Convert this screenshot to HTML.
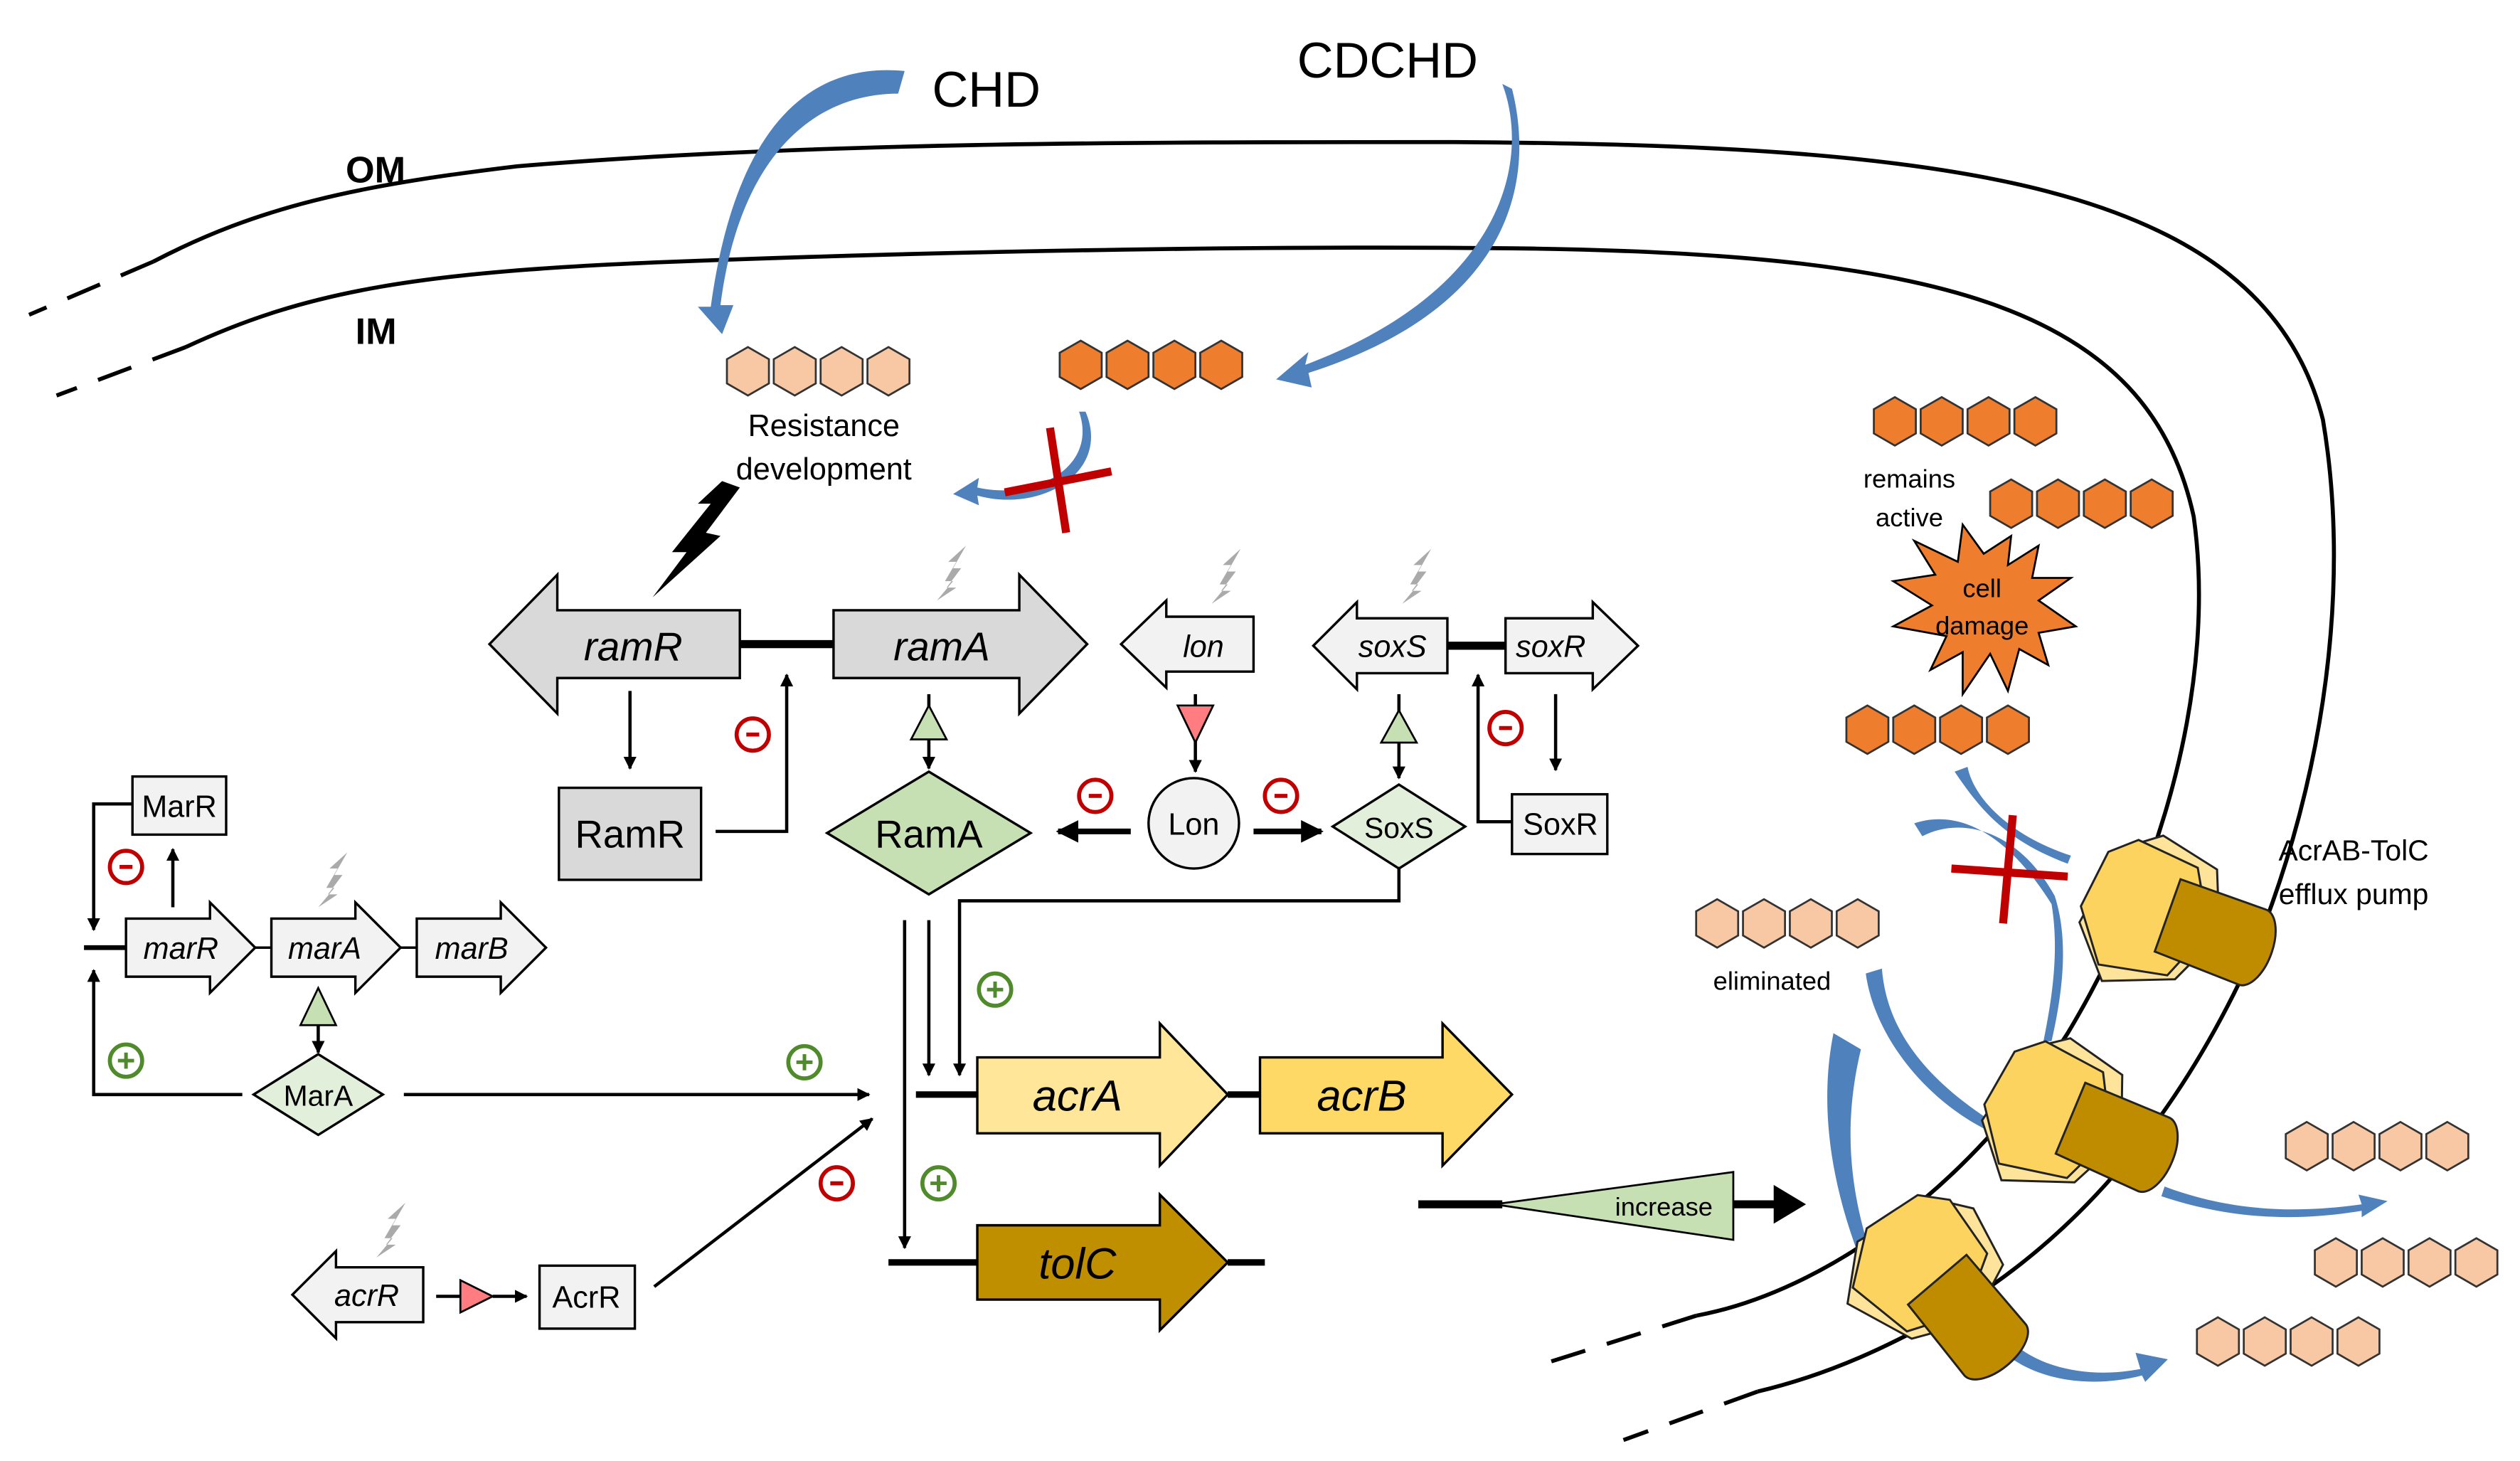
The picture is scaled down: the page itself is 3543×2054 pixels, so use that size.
<!DOCTYPE html>
<html><head><meta charset="utf-8"><style>html,body{margin:0;padding:0;background:#fff}svg{display:block}</style></head>
<body>
<svg width="3543" height="2054" viewBox="0 0 1560 905" preserveAspectRatio="none" xmlns="http://www.w3.org/2000/svg" font-family="Liberation Sans, sans-serif">
<defs>
<marker id="ah" viewBox="0 0 10 10" refX="9" refY="5" markerWidth="4" markerHeight="4" orient="auto"><path d="M0,0L10,5L0,10z" fill="#000"/></marker>
<polygon id="hx" points="0,-15 13,-7.5 13,7.5 0,15 -13,7.5 -13,-7.5"/>
<g id="chainL" fill="#f8c8a4" stroke="#333" stroke-width="1.2"><use href="#hx" x="13"/><use href="#hx" x="42"/><use href="#hx" x="71"/><use href="#hx" x="100"/></g>
<g id="chainO" fill="#ee7d2e" stroke="#333" stroke-width="1.2"><use href="#hx" x="13"/><use href="#hx" x="42"/><use href="#hx" x="71"/><use href="#hx" x="100"/></g>
<g id="bolt"><polygon points="18,0 10,14 15,14 6,26 12,26 0,34 10,22 5,22 12,10 7,10" fill="#aaa"/></g>
<g id="pump" stroke="#222" stroke-width="1.3">
 <polygon points="5,-48 40,-30 45,10 20,40 -25,45 -42,10 -20,-38" fill="#fde49a"/>
 <polygon points="-10,-44 28,-30 38,8 15,38 -28,35 -42,0 -28,-35" fill="#fcd35f"/>
 <path d="M18,-22 L72,-8 A12,24 15 0 1 60,40 L6,24 Z" fill="#bf8c00"/>
</g>
<g id="minus"><circle r="10" fill="#fff" stroke="#c00000" stroke-width="2.5"/><line x1="-4" x2="4" stroke="#c00000" stroke-width="2.5"/></g>
<g id="plus"><circle r="10" fill="#fff" stroke="#4f8a2b" stroke-width="2.5"/><line x1="-5" x2="5" stroke="#4f8a2b" stroke-width="2.2"/><line y1="-5" y2="5" stroke="#4f8a2b" stroke-width="2.2"/></g>
</defs>

<!-- membranes -->
<g fill="none" stroke="#000" stroke-width="2.5">
<path d="M95,162 C160,128 220,115 320,103 C500,88 700,88 900,88 C1200,90 1400,110 1438,260 C1455,360 1440,480 1395,590 C1350,690 1290,760 1220,805 C1170,835 1130,852 1088,862"/>
<path d="M95,162 L18,195" stroke-dasharray="22,14"/>
<path d="M1088,862 L1005,892" stroke-dasharray="22,14"/>
<path d="M115,215 C190,180 260,168 420,162 C600,155 800,152 950,154 C1200,158 1330,190 1358,320 C1372,420 1340,540 1280,640 C1220,735 1130,800 1050,815"/>
<path d="M115,215 L35,245" stroke-dasharray="22,14"/>
<path d="M1050,815 L955,845" stroke-dasharray="22,14"/>
</g>
<text x="214" y="113" font-size="23" font-weight="bold">OM</text>
<text x="220" y="213" font-size="23" font-weight="bold">IM</text>
<text x="577" y="66" font-size="31">CHD</text>
<text x="803" y="48" font-size="31">CDCHD</text>

<!-- blue arrows top -->
<g fill="#4f81bd">
<path d="M560,44 C500,38 455,80 440,190 L432,190 L447,207 L454,189 L446,189 C458,95 505,58 556,58 Z"/>
<path d="M930,52 C948,100 930,180 808,226 L810,218 L790,235 L812,240 L810,231 C938,190 950,110 936,55 Z"/>
<path d="M668,255 C680,290 640,310 605,302 L606,296 L590,306 L606,313 L605,307 C645,318 688,292 672,255 Z"/>
</g>
<use href="#chainL" x="450" y="230"/>
<use href="#chainO" x="656" y="226"/>
<text x="510" y="270" font-size="19" text-anchor="middle">Resistance</text>
<text x="510" y="297" font-size="19" text-anchor="middle">development</text>
<g stroke="#c00000" stroke-width="5"><line x1="622" y1="305" x2="688" y2="292"/><line x1="650" y1="265" x2="660" y2="330"/></g>
<polygon points="458,302 437,330 446,332 404,370 425,342 416,342 440,312 432,312 447,298" fill="#000"/>

<!-- gray bolts -->
<use href="#bolt" x="580" y="338"/>
<use href="#bolt" x="750" y="340"/>
<use href="#bolt" x="868" y="340"/>
<use href="#bolt" x="197" y="528"/>
<use href="#bolt" x="233" y="745"/>

<!-- gene arrows top -->
<g stroke="#000" stroke-width="1.5">
<line x1="458" y1="399" x2="516" y2="399" stroke-width="5"/>
<polygon points="303,399 345,356 345,378 458,378 458,420 345,420 345,442" fill="#d9d9d9"/>
<polygon points="673,399 631,356 631,378 516,378 516,420 631,420 631,442" fill="#d9d9d9"/>
<polygon points="694,399 722,372 722,382 776,382 776,416 722,416 722,426" fill="#f2f2f2"/>
<line x1="896" y1="400" x2="932" y2="400" stroke-width="5"/>
<polygon points="813,400 840,373 840,383 896,383 896,417 840,417 840,427" fill="#f2f2f2"/>
<polygon points="1014,400 986,373 986,383 932,383 932,417 986,417 986,427" fill="#f2f2f2"/>
</g>
<g font-style="italic" text-anchor="middle">
<text x="392" y="409" font-size="25">ramR</text>
<text x="583" y="409" font-size="25">ramA</text>
<text x="745" y="407" font-size="19">lon</text>
<text x="862" y="407" font-size="19">soxS</text>
<text x="960" y="407" font-size="19">soxR</text>
</g>

<!-- proteins -->
<g stroke="#000" stroke-width="1.5">
<rect x="346" y="488" width="88" height="57" fill="#d9d9d9"/>
<polygon points="575,478 638,516 575,554 512,516" fill="#c6e0b4"/>
<circle cx="739" cy="510" r="28" fill="#f2f2f2"/>
<polygon points="866,486 907,512 866,538 825,512" fill="#e2efda"/>
<rect x="936" y="492" width="59" height="37" fill="#f2f2f2"/>
<rect x="82" y="481" width="58" height="36" fill="#f2f2f2"/>
<polygon points="197,653 237,678 197,703 157,678" fill="#e2efda"/>
<rect x="334" y="784" width="59" height="39" fill="#f2f2f2"/>
</g>
<g text-anchor="middle">
<text x="390" y="525" font-size="24">RamR</text>
<text x="575" y="525" font-size="24">RamA</text>
<text x="739" y="517" font-size="19">Lon</text>
<text x="866" y="519" font-size="18">SoxS</text>
<text x="966" y="517" font-size="19">SoxR</text>
<text x="111" y="506" font-size="19">MarR</text>
<text x="197" y="685" font-size="18">MarA</text>
<text x="363" y="810" font-size="19">AcrR</text>
</g>

<!-- connectors -->
<g stroke="#000" stroke-width="2" fill="none" marker-end="url(#ah)">
<line x1="390" y1="428" x2="390" y2="476"/>
<polyline points="443,515 487,515 487,418"/>
<line x1="575" y1="458" x2="575" y2="476"/>
<line x1="740" y1="458" x2="740" y2="478"/>
<line x1="866" y1="460" x2="866" y2="482"/>
<polyline points="936,509 915,509 915,418"/>
<line x1="963" y1="430" x2="963" y2="477"/>
<line x1="700" y1="515" x2="655" y2="515" stroke-width="3.5"/>
<line x1="776" y1="515" x2="818" y2="515" stroke-width="3.5"/>
<line x1="197" y1="635" x2="197" y2="652"/>
<line x1="107" y1="562" x2="107" y2="526"/>
<polyline points="82,498 58,498 58,576"/>
<polyline points="150,678 58,678 58,601"/>
<line x1="250" y1="678" x2="538" y2="678"/>
<line x1="405" y1="797" x2="540" y2="693"/>
<line x1="305" y1="803" x2="326" y2="803"/>
<line x1="560" y1="570" x2="560" y2="773"/>
<line x1="575" y1="570" x2="575" y2="666"/>
<polyline points="866,537 866,558 594,558 594,666"/>
</g>
<g stroke="#000" stroke-width="2">
<line x1="575" y1="430" x2="575" y2="440"/>
<line x1="740" y1="430" x2="740" y2="440"/>
<line x1="866" y1="430" x2="866" y2="442"/>
<line x1="197" y1="615" x2="197" y2="620"/>
<line x1="270" y1="803" x2="285" y2="803"/>
<line x1="52" y1="587" x2="78" y2="587" stroke-width="3"/>
</g>
<g stroke="#000" stroke-width="1.2">
<polygon points="575,437 586,458 564,458" fill="#c6e0b4"/>
<polygon points="729,437 751,437 740,460" fill="#ff7c80"/>
<polygon points="866,440 877,460 855,460" fill="#c6e0b4"/>
<polygon points="197,612 208,635 186,635" fill="#c6e0b4"/>
<polygon points="285,793 305,803 285,813" fill="#ff7c80"/>
</g>

<!-- mar operon -->
<g stroke="#000" stroke-width="1.5" fill="#f2f2f2">
<polygon points="78,569 130,569 130,559 158,587 130,615 130,605 78,605"/>
<polygon points="168,569 220,569 220,559 248,587 220,615 220,605 168,605"/>
<polygon points="258,569 310,569 310,559 338,587 310,615 310,605 258,605"/>
<line x1="158" y1="587" x2="168" y2="587"/><line x1="248" y1="587" x2="258" y2="587"/>
<polygon points="181,802 208,775 208,785 262,785 262,819 208,819 208,829"/>
</g>
<g font-style="italic" text-anchor="middle" font-size="19">
<text x="112" y="594">marR</text><text x="201" y="594">marA</text><text x="292" y="594">marB</text>
<text x="227" y="809">acrR</text>
</g>

<!-- acr operon -->
<g stroke="#000">
<line x1="567" y1="678" x2="605" y2="678" stroke-width="4"/>
<line x1="760" y1="678" x2="780" y2="678" stroke-width="4"/>
<line x1="550" y1="782" x2="605" y2="782" stroke-width="4"/>
<line x1="760" y1="782" x2="783" y2="782" stroke-width="4"/>
<polygon points="605,655 718,655 718,634 760,678 718,722 718,702 605,702" fill="#ffe699" stroke-width="1.5"/>
<polygon points="780,655 893,655 893,634 936,678 893,722 893,702 780,702" fill="#ffd966" stroke-width="1.5"/>
<polygon points="605,759 718,759 718,740 760,782 718,824 718,805 605,805" fill="#bf8f00" stroke-width="1.5"/>
</g>
<g font-style="italic" text-anchor="middle" font-size="27">
<text x="667" y="688">acrA</text><text x="843" y="688">acrB</text><text x="667" y="792">tolC</text>
</g>

<!-- signs -->
<use href="#minus" x="78" y="537"/><use href="#minus" x="466" y="455"/><use href="#minus" x="678" y="493"/>
<use href="#minus" x="793" y="493"/><use href="#minus" x="932" y="451"/><use href="#minus" x="518" y="733"/>
<use href="#plus" x="78" y="657"/><use href="#plus" x="498" y="658"/><use href="#plus" x="616" y="613"/><use href="#plus" x="581" y="733"/>

<!-- increase -->
<line x1="878" y1="746" x2="930" y2="746" stroke="#000" stroke-width="5"/>
<polygon points="925,746 1073,726 1073,768" fill="#c6e0b4" stroke="#000" stroke-width="1.2"/>
<text x="1030" y="753" font-size="16" text-anchor="middle">increase</text>
<line x1="1073" y1="746" x2="1100" y2="746" stroke="#000" stroke-width="5"/>
<polygon points="1098,734 1118,746 1098,758" fill="#000"/>

<!-- right side -->
<use href="#chainO" x="1160" y="261"/>
<use href="#chainO" x="1232" y="312"/>
<use href="#chainO" x="1143" y="452"/>
<use href="#chainL" x="1050" y="572"/>
<use href="#chainL" x="1415" y="710"/>
<use href="#chainL" x="1433" y="782"/>
<use href="#chainL" x="1360" y="831"/>
<text x="1182" y="302" font-size="16" text-anchor="middle">remains</text>
<text x="1182" y="326" font-size="16" text-anchor="middle">active</text>
<polygon points="1245,332 1243,350 1262,338 1258,358 1282,358 1262,372 1285,388 1262,392 1268,412 1250,402 1243,428 1232,405 1215,430 1215,404 1195,415 1205,394 1172,388 1196,375 1172,360 1198,356 1185,335 1212,348 1215,325 1228,343" fill="#ee7d2e" stroke="#000" stroke-width="1.2"/>
<text x="1227" y="370" font-size="16" text-anchor="middle">cell</text>
<text x="1227" y="393" font-size="16" text-anchor="middle">damage</text>
<text x="1097" y="613" font-size="16" text-anchor="middle">eliminated</text>
<text x="1457" y="533" font-size="18" text-anchor="middle">AcrAB-TolC</text>
<text x="1457" y="560" font-size="18" text-anchor="middle">efflux pump</text>

<g fill="#4f81bd">
<path d="M1210,478 C1225,500 1240,520 1280,535 L1282,530 C1245,518 1222,495 1218,475 Z"/>
<path d="M1185,510 C1215,500 1245,520 1270,560 C1275,590 1270,620 1265,645 L1270,645 C1278,610 1280,580 1272,555 C1250,515 1215,505 1190,518 Z"/>
<path d="M1155,603 C1160,640 1190,680 1230,700 L1232,694 C1195,670 1168,640 1165,600 Z"/>
<path d="M1135,640 C1125,690 1135,745 1160,800 L1165,796 C1145,745 1140,700 1152,650 Z"/>
<path d="M1340,735 C1380,750 1420,752 1462,746 L1460,740 L1478,744 L1462,754 L1462,750 C1420,757 1380,755 1338,741 Z"/>
<path d="M1250,835 C1270,850 1300,853 1325,848 L1322,838 L1342,842 L1328,856 L1326,852 C1295,860 1265,855 1246,842 Z"/>
</g>
<g stroke="#c00000" stroke-width="5"><line x1="1208" y1="538" x2="1280" y2="543"/><line x1="1246" y1="505" x2="1240" y2="572"/></g>

<use href="#pump" transform="translate(1330,565) rotate(5)"/>
<use href="#pump" transform="translate(1270,690) rotate(8)"/>
<use href="#pump" transform="translate(1190,785) rotate(35)"/>
</svg>
</body></html>
